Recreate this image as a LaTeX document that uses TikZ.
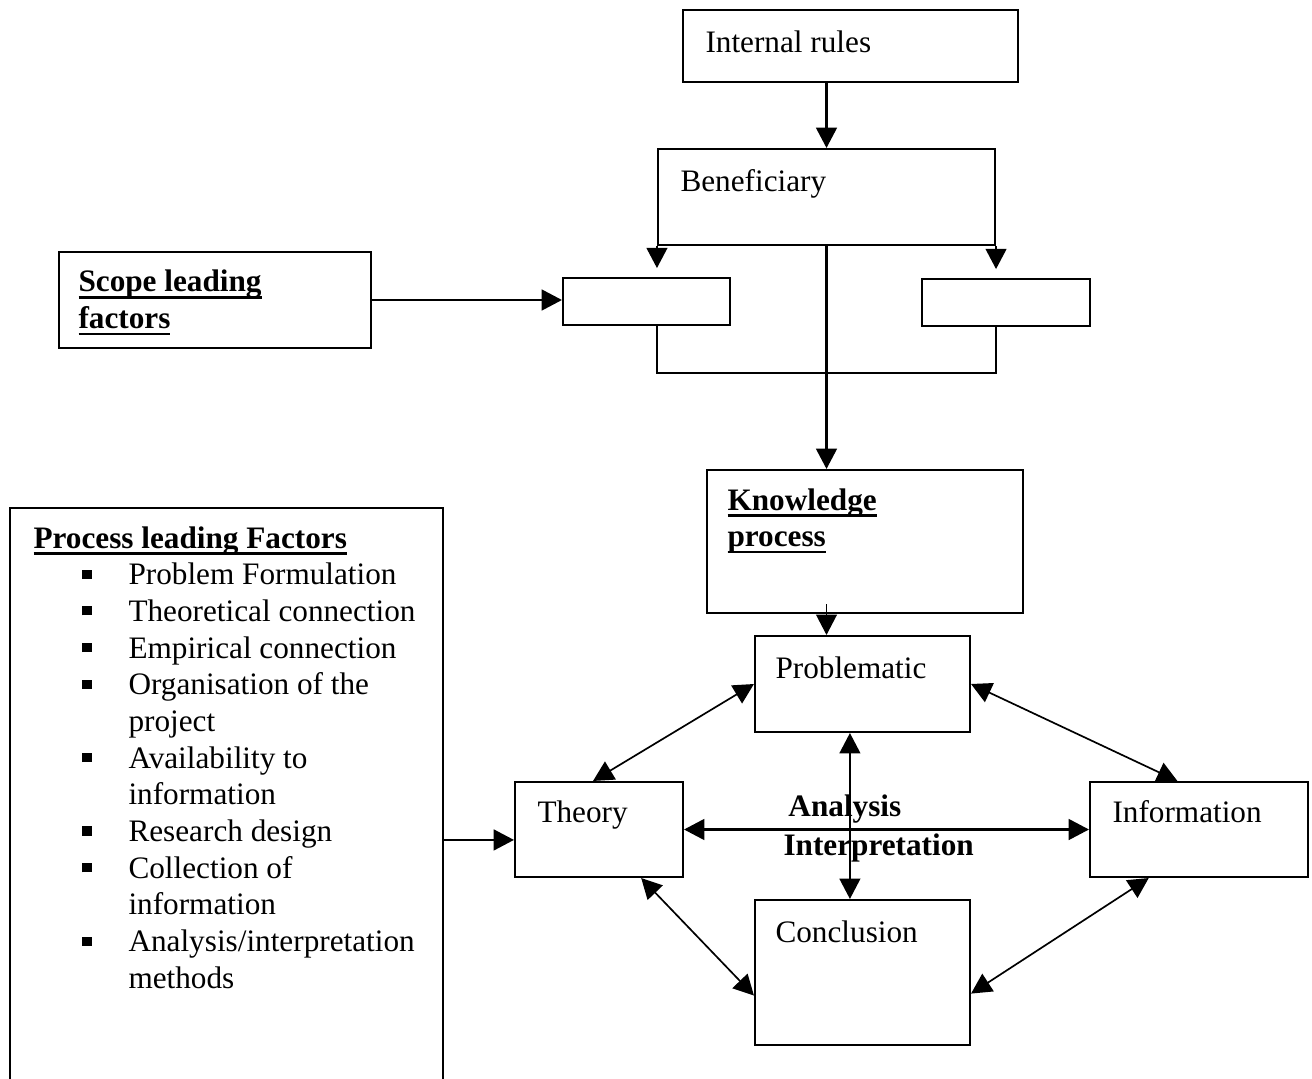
\documentclass[tikz,border=0pt]{standalone}
\usepackage{fontspec}
\setmainfont{Liberation Serif}
\usetikzlibrary{arrows.meta,fit}

\tikzset{boxed/.style={draw, rectangle, line width=0.8pt, inner sep=0pt}}
\tikzset{txt/.style={anchor=base west, inner sep=0pt, font=\fontsize{12pt}{14.1pt}\selectfont}}
\tikzset{conn/.style={line width=0.8pt}}
\tikzset{arr/.style={conn, -{Triangle[length=7.8pt,width=8pt]}}}
\tikzset{dblarr/.style={line width=0.65pt, {Triangle[length=7.8pt,width=8pt]}-{Triangle[length=7.8pt,width=8pt]}}}

\newcommand{\ulbf}[1]{\setbox0\hbox{\bfseries #1}\rlap{\rule[-2.6pt]{\wd0}{1.1pt}}\box0}
\newcommand{\sqbullet}{\makebox[36.5pt][l]{\hspace*{18.8pt}\rule[2.3pt]{3.5pt}{3.5pt}}}

\begin{document}
\begin{tikzpicture}[x=0.0135cm, y=-0.0135cm]
		\useasboundingbox (0,0) rectangle (1312,1079);
		\fill[white] (0,0) rectangle (1312,1079);
		\clip (0,0) rectangle (1312,1079);
		% top part
		\node[boxed, fit={(683,10) (1018,82)}] (rules) {};
		\node[txt] (rulestxt) at (705,53) {Internal rules};
		\node[boxed, fit={(658,149) (995,245)}] (ben) {};
		\node[txt] (bentxt) at (680,192) {Beneficiary};
		\node[boxed, fit={(563,278) (730,325)}] (lbox) {};
		\node[boxed, fit={(922,279) (1090,326)}] (rbox) {};
		\node[boxed, fit={(59,252) (371,348)}] (scope) {};
		\node[txt] (scopetxt) at (78,292) {\begin{tabular}[t]{@{}l@{}}\ulbf{Scope leading}\\ \ulbf{factors}\end{tabular}};
		\node[boxed, fit={(707,470) (1023,613)}] (know) {};
		\node[txt] (knowtxt) at (727,510) {\begin{tabular}[t]{@{}l@{}}\ulbf{Knowledge}\\ \ulbf{process}\end{tabular}};
		% left list
		\node[boxed, fit={(10,508) (443,1100)}] (proc) {};
		\node[txt] (proctxt) at (33,548) {\begin{tabular}[t]{@{}l@{}l@{}}
			\multicolumn{2}{@{}l@{}}{\ulbf{Process leading Factors}}\\
			\sqbullet & Problem Formulation\\
			\sqbullet & Theoretical connection\\
			\sqbullet & Empirical connection\\
			\sqbullet & Organisation of the\\
			 & project\\
			\sqbullet & Availability to\\
			 & information\\
			\sqbullet & Research design\\
			\sqbullet & Collection of\\
			 & information\\
			\sqbullet & Analysis/interpretation\\
			 & methods
		\end{tabular}};
		% cycle
		\node[boxed, fit={(755,636) (970,732)}] (prob) {};
		\node[txt] (probtxt) at (775,678) {Problematic};
		\node[boxed, fit={(515,782) (683,877)}] (theory) {};
		\node[txt] (theorytxt) at (537,822) {Theory};
		\node[boxed, fit={(1090,782) (1308,877)}] (info) {};
		\node[txt] (infotxt) at (1112,822) {Information};
		\node[boxed, fit={(755,900) (970,1045)}] (conc) {};
		\node[txt] (conctxt) at (775,942) {Conclusion};
		\node[txt] (anltxt) at (783,816) {\begin{tabular}[t]{@{}l@{}}\hspace*{1.9pt}\textbf{Analysis}\\[1pt] \textbf{Interpretation}\end{tabular}};
		% connectors
		\draw[arr] (rules.south -| ben.north) -- (ben.north);
		\draw[arr, shorten >=0.12cm] (ben.south west) -- (ben.south west |- lbox.north);
		\draw[arr, shorten >=0.12cm] (ben.south east) -- (ben.south east |- rbox.north);
		\draw[conn] (ben.south west |- lbox.south) -- ++(0,47) -| (ben.south east |- rbox.south);
		\draw[arr] (ben.south) -- (ben.south |- know.north);
		\draw[arr] (scope.east) -- (scope.east -| lbox.west);
		\draw[arr, line width=0.5pt] (ben.south |- know.south) ++(0,-10) -- (ben.south |- prob.north);
		\draw[dblarr] (theory.97) -- (prob.west);
		\draw[dblarr] (prob.east) -- (info.114);
		\draw[dblarr] (theory.311) -- (conc.192);
		\draw[dblarr] (info.224) -- (conc.349);
		\draw[dblarr, line width=0.8pt] (theory.east) -- (info.west);
		\draw[dblarr] ([xshift=-0.17cm]prob.south) -- ([xshift=-0.17cm]conc.north);
		\draw[arr] (proc.east |- theory.187) -- (theory.187);
	\end{tikzpicture}
\end{document}
